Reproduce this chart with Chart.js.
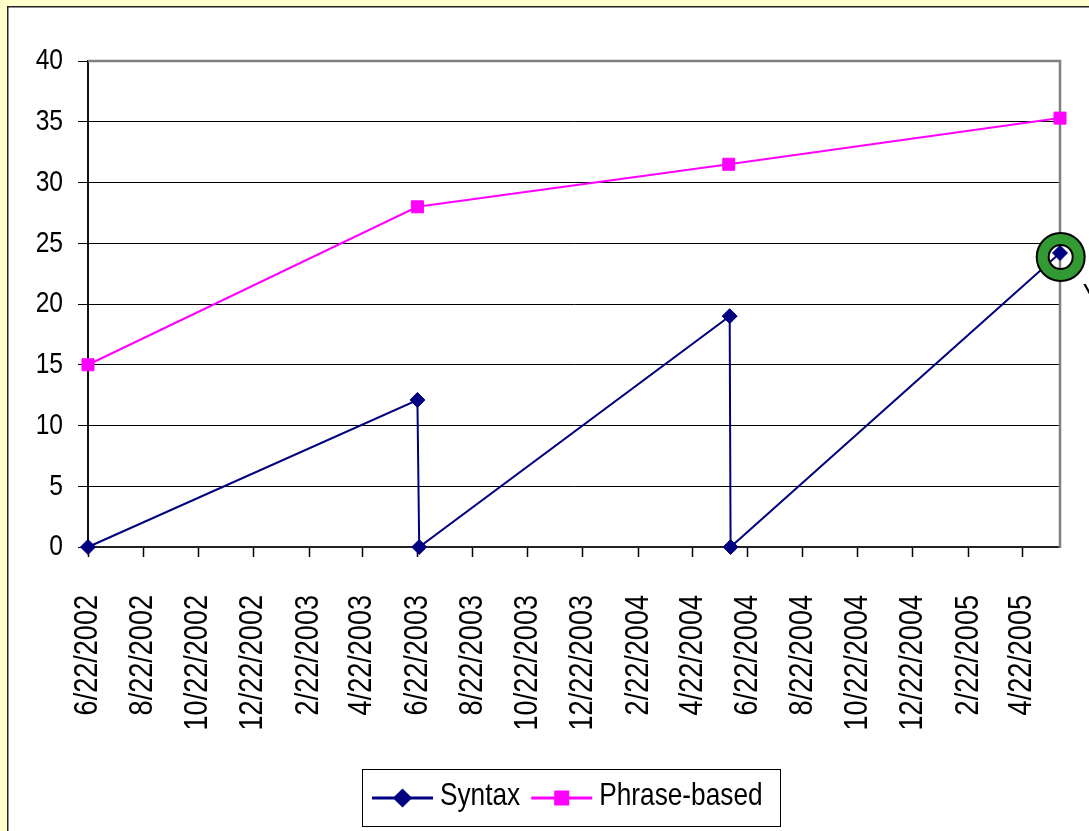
<!DOCTYPE html>
<html>
<head>
<meta charset="utf-8">
<title>Syntax vs Phrase-based</title>
<script src="https://cdn.jsdelivr.net/npm/chart.js@4/dist/chart.umd.min.js"></script>
<style>
  html, body { margin: 0; padding: 0; background: #FFFFCC; overflow: hidden; }
  canvas { display: block; }
</style>
</head>
<body>
<canvas id="chart" width="1089" height="831"></canvas>
<script>
// Evaluation dates and scores for each system family
const syntaxDates  = ['6/22/2002', '6/22/2003', '6/24/2003', '6/2/2004', '6/3/2004', '6/3/2005'];
const syntaxScores = [0, 12.1, 0, 19, 0, 24.2];

const phraseDates  = ['6/22/2002', '6/22/2003', '6/1/2004', '6/3/2005'];
const phraseScores = [15, 28, 31.5, 35.3];

const seriesNames = ['Syntax', 'Phrase-based'];

// Date tick labels on the horizontal axis (every two months)
const dateTicks = [
  '6/22/2002', '8/22/2002', '10/22/2002', '12/22/2002',
  '2/22/2003', '4/22/2003', '6/22/2003', '8/22/2003',
  '10/22/2003', '12/22/2003', '2/22/2004', '4/22/2004',
  '6/22/2004', '8/22/2004', '10/22/2004', '12/22/2004',
  '2/22/2005', '4/22/2005'
];
const axisStart = '6/22/2002';
const axisEnd   = '6/3/2005';

// Score tick labels on the vertical axis
const scoreTicks = [0, 5, 10, 15, 20, 25, 30, 35, 40];

// m/d/yyyy -> whole days since epoch
function dayNum(s) {
  const [m, d, y] = s.split('/').map(Number);
  return Date.UTC(y, m - 1, d) / 86400000;
}

const FONT = "'Liberation Sans', Arial, sans-serif";
const NAVY = '#000080';
const MAGENTA = '#FF00FF';
const SQUEEZE = 0.82;   // condensed lettering: glyphs drawn narrower than their height

const canvas = document.getElementById('chart');
const ctx = canvas.getContext('2d');

// Every label is drawn with a horizontal squeeze about its anchor point,
// so alignment (left / right / centre) is kept.
const baseFillText = ctx.fillText;
ctx.fillText = function (text, x, y, maxWidth) {
  this.save();
  this.translate(x, y);
  this.scale(SQUEEZE, 1);
  baseFillText.call(this, text, 0, 0);
  this.restore();
};

// Page frame: pale yellow margin, white panel with dark outline
const framePlugin = {
  id: 'frame',
  beforeDraw(chart) {
    const c = chart.ctx;
    c.save();
    c.fillStyle = '#FFFFCC';
    c.fillRect(0, 0, chart.width, chart.height);
    c.fillStyle = '#FFFFFF';
    c.fillRect(8, 7, chart.width, chart.height);
    c.strokeStyle = '#222222';
    c.lineWidth = 1.5;
    c.beginPath();
    c.moveTo(7.75, chart.height + 5);
    c.lineTo(7.75, 6.75);
    c.lineTo(chart.width + 5, 6.75);
    c.stroke();
    c.restore();
  },
  // gray plot-area border on top and right edges
  beforeDatasetsDraw(chart) {
    const { ctx: c, chartArea: a } = chart;
    c.save();
    c.strokeStyle = '#808080';
    c.lineWidth = 2.5;
    c.beginPath();
    c.moveTo(a.left, a.top);
    c.lineTo(a.right, a.top);
    c.lineTo(a.right, a.bottom + 1);
    c.stroke();
    c.restore();
  }
};

// Legend drawn as line + marker + label, framed in a box
const lineLegendPlugin = {
  id: 'lineLegend',
  afterDraw(chart, args, opts) {
    const c = chart.ctx;
    c.save();
    c.fillStyle = '#FFFFFF';
    c.fillRect(opts.x, opts.y, opts.w, opts.h);
    c.strokeStyle = '#000000';
    c.lineWidth = 1;
    c.strokeRect(opts.x + 0.5, opts.y + 0.5, opts.w, opts.h);
    const ly = opts.y + opts.lineOffset;
    const by = opts.y + opts.baselineOffset;
    let x = opts.x + 10;
    c.font = opts.fontSize + 'px ' + FONT;
    c.textBaseline = 'alphabetic';
    c.textAlign = 'left';
    chart.data.datasets.forEach((ds) => {
      c.strokeStyle = ds.borderColor;
      c.lineWidth = 3;
      c.beginPath();
      c.moveTo(x, ly);
      c.lineTo(x + opts.lineLen, ly);
      c.stroke();
      Chart.helpers.drawPoint(c, {
        pointStyle: ds.pointStyle,
        radius: ds.pointRadius,
        rotation: 0,
        borderWidth: 1
      }, x + opts.lineLen / 2, ly);
      c.fillStyle = ds.backgroundColor;
      c.strokeStyle = ds.borderColor;
      c.lineWidth = 1;
      c.fill();
      c.stroke();
      c.fillStyle = '#000000';
      c.fillText(ds.label, x + opts.lineLen + 7, by);
      x += opts.lineLen + 7 + c.measureText(ds.label).width * SQUEEZE + 11;
    });
    c.restore();
  }
};

// Green ring highlighting the latest syntax result
const ringPlugin = {
  id: 'ring',
  afterDatasetsDraw(chart) {
    const meta = chart.getDatasetMeta(0);
    const pt = meta.data[meta.data.length - 1];
    const c = chart.ctx;
    const cx = pt.x + 0.7, cy = pt.y + 4;
    c.save();
    c.beginPath();
    c.arc(cx, cy, 24, 0, Math.PI * 2);
    c.arc(cx, cy, 12, 0, Math.PI * 2, true);
    c.fillStyle = '#339933';
    c.fill('evenodd');
    c.strokeStyle = '#000000';
    c.lineWidth = 2;
    c.beginPath();
    c.arc(cx, cy, 24, 0, Math.PI * 2);
    c.stroke();
    c.beginPath();
    c.arc(cx, cy, 12, 0, Math.PI * 2);
    c.stroke();
    // start of the callout text, running off the right edge
    c.fillStyle = '#000000';
    c.font = '30px ' + FONT;
    c.textBaseline = 'top';
    c.textAlign = 'left';
    c.fillText('Y', cx + 22, cy + 24);
    c.restore();
  }
};

new Chart(ctx, {
  type: 'line',
  data: {
    datasets: [
      {
        label: seriesNames[0],
        data: syntaxDates.map((d, i) => ({ x: dayNum(d), y: syntaxScores[i] })),
        borderColor: NAVY,
        backgroundColor: NAVY,
        borderWidth: 2,
        pointStyle: 'rectRot',
        pointRadius: 7.5,
        pointBorderWidth: 1,
        tension: 0,
        clip: false,
        order: 1
      },
      {
        label: seriesNames[1],
        data: phraseDates.map((d, i) => ({ x: dayNum(d), y: phraseScores[i] })),
        borderColor: MAGENTA,
        backgroundColor: MAGENTA,
        borderWidth: 2,
        pointStyle: 'rect',
        pointRadius: 8.5,
        pointBorderWidth: 1,
        tension: 0,
        clip: false,
        order: 0
      }
    ]
  },
  options: {
    responsive: false,
    devicePixelRatio: 1,
    animation: false,
    events: [],
    layout: { padding: { top: 61, right: 29, left: 0, bottom: 0 } },
    plugins: {
      legend: { display: false },
      tooltip: { enabled: false },
      lineLegend: {
        x: 362, y: 769, w: 418, h: 57,
        lineLen: 61, fontSize: 32, lineOffset: 29, baselineOffset: 36
      }
    },
    scales: {
      x: {
        type: 'linear',
        min: dayNum(axisStart),
        max: dayNum(axisEnd),
        afterBuildTicks(scale) {
          scale.ticks = dateTicks.map((s) => ({ value: dayNum(s) }));
        },
        afterFit(scale) {
          scale.height = 284;
          scale.paddingLeft = 0;
          scale.paddingRight = 0;
        },
        ticks: {
          autoSkip: false,
          minRotation: 90,
          maxRotation: 90,
          padding: 38,
          color: '#000000',
          font: { family: FONT, size: 33 },
          callback: (v, i) => dateTicks[i]
        },
        grid: {
          drawOnChartArea: false,
          drawTicks: true,
          tickLength: 10,
          tickColor: '#000000',
          tickWidth: 1.5
        },
        border: { display: true, color: '#222222', width: 2 }
      },
      y: {
        min: scoreTicks[0],
        max: scoreTicks[scoreTicks.length - 1],
        afterBuildTicks(scale) {
          scale.ticks = scoreTicks.map((v) => ({ value: v }));
        },
        afterFit(scale) {
          scale.width = 88;
          scale.paddingTop = 0;
          scale.paddingBottom = 0;
        },
        ticks: {
          padding: 15,
          color: '#000000',
          font: { family: FONT, size: 30 }
        },
        grid: {
          color: '#000000',
          lineWidth: 1,
          tickLength: 10,
          tickColor: '#000000'
        },
        border: { display: true, color: '#111111', width: 2 }
      }
    }
  },
  plugins: [framePlugin, lineLegendPlugin, ringPlugin]
});
</script>
</body>
</html>
